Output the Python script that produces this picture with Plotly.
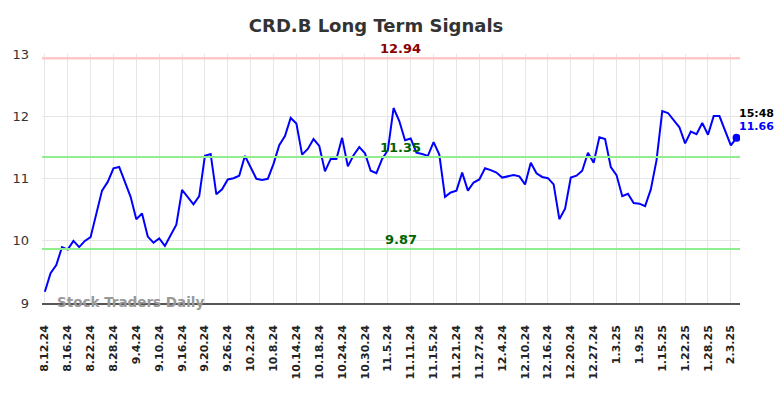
import plotly.graph_objects as go

dates = [
    "8.12.24", "8.13.24", "8.14.24", "8.15.24", "8.16.24",
    "8.19.24", "8.20.24", "8.21.24", "8.22.24", "8.23.24",
    "8.26.24", "8.27.24", "8.28.24", "8.29.24", "8.30.24",
    "9.3.24", "9.4.24", "9.5.24", "9.6.24",
    "9.9.24", "9.10.24", "9.11.24", "9.12.24", "9.13.24",
    "9.16.24", "9.17.24", "9.18.24", "9.19.24", "9.20.24",
    "9.23.24", "9.24.24", "9.25.24", "9.26.24", "9.27.24",
    "9.30.24", "10.1.24", "10.2.24", "10.3.24", "10.4.24",
    "10.7.24", "10.8.24", "10.9.24", "10.10.24", "10.11.24",
    "10.14.24", "10.15.24", "10.16.24", "10.17.24", "10.18.24",
    "10.21.24", "10.22.24", "10.23.24", "10.24.24", "10.25.24",
    "10.28.24", "10.29.24", "10.30.24", "10.31.24", "11.1.24",
    "11.4.24", "11.5.24", "11.6.24", "11.7.24", "11.8.24",
    "11.11.24", "11.12.24", "11.13.24", "11.14.24", "11.15.24",
    "11.18.24", "11.19.24", "11.20.24", "11.21.24", "11.22.24",
    "11.25.24", "11.26.24", "11.27.24", "11.29.24",
    "12.2.24", "12.3.24", "12.4.24", "12.5.24", "12.6.24",
    "12.9.24", "12.10.24", "12.11.24", "12.12.24", "12.13.24",
    "12.16.24", "12.17.24", "12.18.24", "12.19.24", "12.20.24",
    "12.23.24", "12.24.24", "12.26.24", "12.27.24",
    "12.30.24", "12.31.24", "1.2.25", "1.3.25",
    "1.6.25", "1.7.25", "1.8.25", "1.9.25", "1.10.25",
    "1.13.25", "1.14.25", "1.15.25", "1.16.25", "1.17.25",
    "1.21.25", "1.22.25", "1.23.25", "1.24.25",
    "1.27.25", "1.28.25", "1.29.25", "1.30.25", "1.31.25",
    "2.3.25", "2.4.25",
]

prices = [
    9.18, 9.48, 9.61, 9.90, 9.86, 10.00, 9.90, 10.00, 10.06, 10.44,
    10.81, 10.95, 11.17, 11.19, 10.95, 10.71, 10.35, 10.44, 10.07, 9.97,
    10.04, 9.92, 10.09, 10.26, 10.82, 10.71, 10.59, 10.72, 11.37, 11.40,
    10.75, 10.83, 10.99, 11.01, 11.05, 11.37, 11.18, 11.00, 10.98, 11.00,
    11.24, 11.54, 11.69, 11.98, 11.89, 11.39, 11.48, 11.64, 11.53, 11.12,
    11.32, 11.32, 11.66, 11.20, 11.38, 11.51, 11.41, 11.13, 11.09, 11.32,
    11.46, 12.14, 11.93, 11.62, 11.65, 11.42, 11.40, 11.37, 11.59, 11.39,
    10.71, 10.78, 10.81, 11.10, 10.81, 10.94, 10.99, 11.17, 11.14, 11.10,
    11.02, 11.04, 11.06, 11.04, 10.91, 11.26, 11.09, 11.03, 11.01, 10.91,
    10.35, 10.52, 11.02, 11.05, 11.13, 11.42, 11.26, 11.67, 11.64, 11.19,
    11.06, 10.72, 10.76, 10.61, 10.60, 10.56, 10.83, 11.30, 12.09, 12.06,
    11.95, 11.83, 11.57, 11.76, 11.72, 11.90, 11.71, 12.01, 12.01, 11.77,
    11.54, 11.66,
]

tick_labels = dates[::4]
y_ticks = [9, 10, 11, 12, 13]

resistance = 12.94
mid_support = 11.35
low_support = 9.87
last_time = "15:48"
title_text = "CRD.B Long Term Signals"
watermark = "Stock Traders Daily"

FONT = "DejaVu Sans"

fig = go.Figure()

fig.add_trace(go.Scatter(
    x=dates, y=prices, mode="lines",
    line=dict(color="#0000ff", width=2),
    hoverinfo="skip", showlegend=False,
))
fig.add_trace(go.Scatter(
    x=[dates[-1]], y=[prices[-1]], mode="markers",
    marker=dict(color="#0000ff", size=8),
    hoverinfo="skip", showlegend=False,
))

for val, col, w in [(resistance, "#ffc8c8", 2.5), (mid_support, "#90ee90", 2), (low_support, "#90ee90", 2)]:
    fig.add_shape(type="line", xref="paper", x0=0, x1=1, yref="y", y0=val, y1=val,
                  line=dict(color=col, width=w), layer="above")

for val, col in [(resistance, "#8b0000"), (mid_support, "#006400"), (low_support, "#006400")]:
    fig.add_annotation(xref="paper", x=0.514, yref="y", y=val, text=f"{val:.2f}",
                       showarrow=False, xanchor="center", yanchor="bottom", yshift=0,
                       font=dict(family=FONT, size=13, color=col, weight="bold"))

fig.add_annotation(xref="paper", x=0.9957, yref="y", y=prices[-1], text=last_time,
                   showarrow=False, xanchor="left", yanchor="middle", yshift=24.5,
                   font=dict(family=FONT, size=11, color="#000000", weight="bold"))
fig.add_annotation(xref="paper", x=0.9957, yref="y", y=prices[-1], text=f"{prices[-1]:.2f}",
                   showarrow=False, xanchor="left", yanchor="middle", yshift=11.5,
                   font=dict(family=FONT, size=11, color="#0000ff", weight="bold"))

fig.add_annotation(xref="paper", x=0.019, yref="y", y=9.0, text=watermark,
                   showarrow=False, xanchor="left", yanchor="middle", yshift=1,
                   font=dict(family=FONT, size=13.5, color="#999999", weight="bold"))

fig.update_layout(
    width=784, height=398,
    margin=dict(l=39, r=44, t=54, b=95),
    paper_bgcolor="white", plot_bgcolor="white",
    title=dict(text=title_text, xref="paper", x=(374.5 - 39) / 701, xanchor="center",
               yref="container", y=1 - 26 / 398, yanchor="middle",
               font=dict(family=FONT, size=18, color="#333333", weight="bold")),
    showlegend=False,
)

fig.update_xaxes(
    type="category", range=[-0.5, 121.6],
    tickmode="array", tickvals=tick_labels, ticktext=tick_labels,
    tickangle=-90, ticks="", ticklabelstandoff=16,
    tickfont=dict(family=FONT, size=11, color="#222222", weight="bold"),
    showgrid=True, gridcolor="#e6e6e6", gridwidth=1,
    showline=True, linecolor="#555555", linewidth=1.5,
    zeroline=False, fixedrange=True,
)
fig.update_yaxes(
    range=[9, 13.01], tickmode="array", tickvals=y_ticks,
    ticks="", ticklabelstandoff=12,
    tickfont=dict(family=FONT, size=13, color="#333333"),
    showgrid=True, gridcolor="#e6e6e6", gridwidth=1,
    showline=False, zeroline=False, fixedrange=True,
)

fig.write_html("out.html", config={"displayModeBar": False},
               post_script="document.body.style.margin='0px';")
